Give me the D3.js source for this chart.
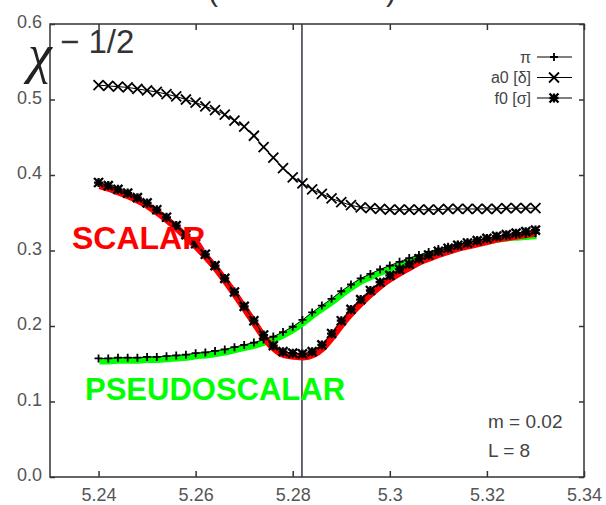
<!DOCTYPE html>
<html lang="en">
<head>
<meta charset="utf-8">
<title>chi^-1/2 vs beta</title>
<script src="https://cdn.jsdelivr.net/npm/d3@7"></script>
<style>
  body { margin: 0; background: #fff; }
  svg { display: block; }
  .axis path { display: none; }
  .axis line { stroke: #333; stroke-width: 1.5; }
  .axis text { font-family: "Liberation Sans", Arial, sans-serif; font-size: 18px; fill: #555; }
  .lbl { font-family: "Liberation Sans", Arial, sans-serif; }
</style>
</head>
<body>
<script>
// beta values of the simulation points
var betas = [5.240, 5.242, 5.244, 5.246, 5.248, 5.250, 5.252, 5.254, 5.256, 5.258,
             5.260, 5.262, 5.264, 5.266, 5.268, 5.270, 5.272, 5.274, 5.276, 5.278,
             5.280, 5.282, 5.284, 5.286, 5.288, 5.290, 5.292, 5.294, 5.296, 5.298,
             5.300, 5.302, 5.304, 5.306, 5.308, 5.310, 5.312, 5.314, 5.316, 5.318,
             5.320, 5.322, 5.324, 5.326, 5.328, 5.330];

// pi  (pseudoscalar)
var piVals = [0.157, 0.157, 0.158, 0.158, 0.158, 0.159, 0.159, 0.160, 0.161, 0.162,
              0.164, 0.165, 0.167, 0.169, 0.172, 0.175, 0.178, 0.182, 0.186, 0.192,
              0.199, 0.208, 0.218, 0.227, 0.236, 0.246, 0.255, 0.263, 0.269, 0.275,
              0.280, 0.285, 0.290, 0.294, 0.298, 0.302, 0.305, 0.308, 0.311, 0.314,
              0.316, 0.318, 0.320, 0.321, 0.322, 0.323];

// a0 [delta]
var a0Vals = [0.519, 0.518, 0.517, 0.516, 0.514, 0.512, 0.510, 0.507, 0.504, 0.500,
              0.496, 0.491, 0.486, 0.480, 0.472, 0.464, 0.452, 0.437, 0.423, 0.409,
              0.397, 0.389, 0.381, 0.375, 0.369, 0.364, 0.360, 0.357, 0.356, 0.355,
              0.354, 0.354, 0.354, 0.354, 0.354, 0.354, 0.355, 0.355, 0.355, 0.355,
              0.355, 0.355, 0.356, 0.356, 0.356, 0.356];

// f0 [sigma]  (scalar)
var f0Vals = [0.390, 0.386, 0.381, 0.376, 0.370, 0.363, 0.354, 0.344, 0.333, 0.321,
              0.309, 0.295, 0.280, 0.263, 0.245, 0.226, 0.207, 0.188, 0.174, 0.166,
              0.164, 0.163, 0.166, 0.175, 0.190, 0.207, 0.222, 0.235, 0.247, 0.258,
              0.267, 0.275, 0.282, 0.289, 0.294, 0.299, 0.303, 0.307, 0.310, 0.313,
              0.316, 0.319, 0.321, 0.323, 0.325, 0.327];

var xTickValues = [5.24, 5.26, 5.28, 5.30, 5.32, 5.34];
var xTickLabels = ["5.24", "5.26", "5.28", "5.3", "5.32", "5.34"];
var yTickValues = [0.0, 0.1, 0.2, 0.3, 0.4, 0.5, 0.6];
var yTickLabels = ["0.0", "0.1", "0.2", "0.3", "0.4", "0.5", "0.6"];
var betaCritical = 5.2819;

var legendNames = ["\u03C0", "a0 [\u03B4]", "f0 [\u03C3]"];

var w = 606, h = 505;
var pLeft = 50, pRight = 584, pTop = 24, pBottom = 477;

var x = d3.scaleLinear().domain([5.23, 5.34]).range([pLeft, pRight]);
var y = d3.scaleLinear().domain([0, 0.6]).range([pBottom, pTop]);

var svg = d3.select("body").append("svg").attr("width", w).attr("height", h);

// marker shapes
function marker(type, s) {
  var plus = "M" + (-s) + ",0H" + s + "M0," + (-s) + "V" + s;
  var cross = "M" + (-s) + "," + (-s) + "L" + s + "," + s + "M" + (-s) + "," + s + "L" + s + "," + (-s);
  if (type == "plus") return plus;
  if (type == "cross") return cross;
  return plus + cross;
}

// bottom of the title brackets, cut off at the top edge
svg.append("text").attr("class", "lbl").attr("x", 208).attr("y", 1)
   .attr("font-size", 30).attr("fill", "#333").text("(");
svg.append("text").attr("class", "lbl").attr("x", 386).attr("y", 1)
   .attr("font-size", 30).attr("fill", "#333").text(")");

// axes
var gx = svg.append("g").attr("class", "axis").attr("transform", "translate(0," + pBottom + ")")
   .call(d3.axisBottom(x).tickValues(xTickValues).tickSize(-6).tickPadding(8)
         .tickFormat(function(d, i) { return xTickLabels[i]; }));
gx.selectAll("text").attr("y", 8).attr("dy", "0.9em");
svg.append("g").attr("class", "axis").attr("transform", "translate(0," + pTop + ")")
   .call(d3.axisTop(x).tickValues(xTickValues).tickSize(-6).tickFormat(""));
var gy = svg.append("g").attr("class", "axis").attr("transform", "translate(" + pLeft + ",0)")
   .call(d3.axisLeft(y).tickValues(yTickValues).tickSize(-5).tickPadding(8)
         .tickFormat(function(d, i) { return yTickLabels[i]; }));
gy.selectAll("text").attr("x", -8).attr("dy", "0.2em");
svg.append("g").attr("class", "axis").attr("transform", "translate(" + pRight + ",0)")
   .call(d3.axisRight(y).tickValues(yTickValues).tickSize(-5).tickFormat(""));

// frame
svg.append("rect").attr("x", pLeft).attr("y", pTop).attr("width", pRight - pLeft).attr("height", pBottom - pTop)
   .attr("fill", "none").attr("stroke", "#333").attr("stroke-width", 1.5);

// critical beta line
svg.append("line").attr("x1", x(betaCritical)).attr("x2", x(betaCritical))
   .attr("y1", pTop).attr("y2", pBottom).attr("stroke", "#334").attr("stroke-width", 1.5);

var smooth = d3.line().x(function(d, i) { return x(betas[i]); }).y(function(d) { return y(d); })
               .curve(d3.curveMonotoneX);

// coloured highlight curves
svg.append("path").datum(piVals).attr("d", smooth).attr("transform", "translate(1,3)")
   .attr("fill", "none").attr("stroke", "#00ff00").attr("stroke-width", 6);
svg.append("path").datum(f0Vals).attr("d", smooth).attr("transform", "translate(1,3)")
   .attr("fill", "none").attr("stroke", "#ff0000").attr("stroke-width", 7);

// data series
var series = [
  {name: legendNames[0], vals: piVals, type: "plus", s: 4, sw: 1.8},
  {name: legendNames[1], vals: a0Vals, type: "cross", s: 5, sw: 1.8},
  {name: legendNames[2], vals: f0Vals, type: "star", s: 4.5, sw: 2.3}
];
var straight = d3.line().x(function(d, i) { return x(betas[i]); }).y(function(d) { return y(d); });

series.forEach(function(s) {
  svg.append("path").datum(s.vals).attr("d", straight)
     .attr("fill", "none").attr("stroke", "#000").attr("stroke-width", 1);
  svg.append("g").selectAll("path").data(s.vals).enter().append("path")
     .attr("transform", function(d, i) { return "translate(" + x(betas[i]) + "," + y(d) + ")"; })
     .attr("d", marker(s.type, s.s))
     .attr("fill", "none").attr("stroke", "#000").attr("stroke-width", s.sw);
});

// legend
var leg = svg.append("g").attr("class", "lbl");
series.forEach(function(s, i) {
  var ly = 57 + i * 20.5;
  leg.append("text").attr("x", 531).attr("y", ly).attr("dy", "0.35em")
     .attr("text-anchor", "end").attr("font-size", 16).attr("fill", "#444").text(s.name);
  leg.append("line").attr("x1", 537).attr("x2", 572).attr("y1", ly).attr("y2", ly)
     .attr("stroke", "#000").attr("stroke-width", 1.2);
  leg.append("path").attr("transform", "translate(554," + ly + ")")
     .attr("d", marker(s.type, s.s)).attr("fill", "none").attr("stroke", "#000").attr("stroke-width", s.sw);
});

// y axis label
svg.append("text").attr("x", 28).attr("y", 72).attr("font-family", "Liberation Serif, serif")
   .attr("font-style", "italic").attr("font-size", 54).attr("fill", "#222").text("\u03C7");
svg.append("text").attr("class", "lbl").attr("x", 60).attr("y", 53)
   .attr("font-size", 33).attr("fill", "#333").text("\u2212 1/2");

// annotations
svg.append("text").attr("class", "lbl").attr("x", 72).attr("y", 249)
   .attr("font-size", 32).attr("font-weight", "bold").attr("fill", "#ff0000").text("SCALAR");
svg.append("text").attr("class", "lbl").attr("x", 85).attr("y", 400)
   .attr("font-size", 31).attr("font-weight", "bold").attr("fill", "#00ff00").text("PSEUDOSCALAR");
svg.append("text").attr("class", "lbl").attr("x", 488).attr("y", 428)
   .attr("font-size", 19).attr("fill", "#444").text("m = 0.02");
svg.append("text").attr("class", "lbl").attr("x", 488).attr("y", 457)
   .attr("font-size", 19).attr("fill", "#444").text("L = 8");
</script>
</body>
</html>
